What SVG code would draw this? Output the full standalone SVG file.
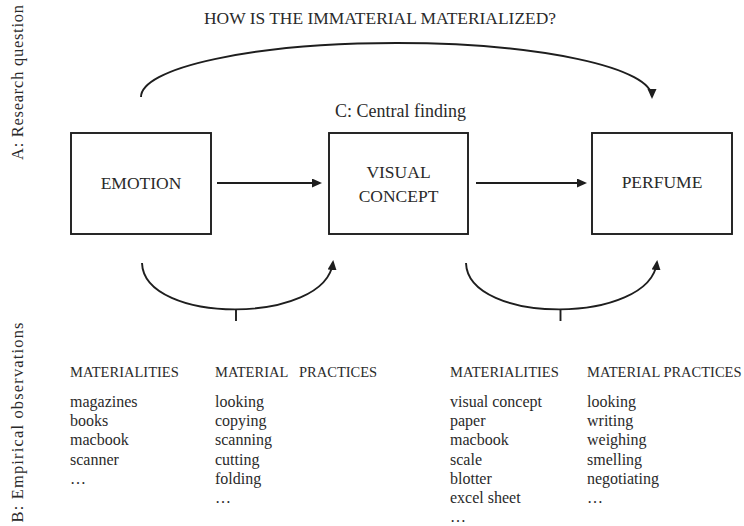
<svg xmlns="http://www.w3.org/2000/svg" width="744" height="526" viewBox="0 0 744 526">
<style>
  text { font-family: "Liberation Serif", "Times New Roman", serif; fill: #2a2a2a; }
  .box { fill: #ffffff; stroke: #1e1e1e; stroke-width: 1.9; }
  .node { font-size: 17.5px; text-anchor: middle; }
  .con { fill: none; stroke: #1e1e1e; stroke-width: 1.9; }
  .head { font-size: 14.5px; }
  .item { font-size: 16px; }
  .side { font-size: 16.5px; text-anchor: middle; }
</style>
<defs>
  <marker id="ah" markerUnits="userSpaceOnUse" markerWidth="12" markerHeight="12" refX="8" refY="4.5" orient="auto">
    <path d="M0,0 L10,4.5 L0,9 z" fill="#1e1e1e"/>
  </marker>
</defs>
<rect width="744" height="526" fill="#ffffff"/>

<g id="side-labels">
  <text class="side" transform="translate(23,82.5) rotate(-90)" textLength="155" lengthAdjust="spacing">A: Research question</text>
  <text class="side" transform="translate(23,422.5) rotate(-90)" textLength="200" lengthAdjust="spacing">B: Empirical observations</text>
</g>

<g id="research-question">
  <text x="204" y="24" font-size="17" textLength="352" lengthAdjust="spacingAndGlyphs">HOW IS THE IMMATERIAL MATERIALIZED?</text>
</g>

<g id="central-finding">
  <text x="335" y="117" font-size="18" textLength="131" lengthAdjust="spacingAndGlyphs">C: Central finding</text>
</g>

<g id="connectors">
  <path class="con" d="M141,97 A255.5,54 0 0 1 652,97" marker-end="url(#ah)"/>
  <line class="con" x1="217" y1="183" x2="320" y2="183" marker-end="url(#ah)"/>
  <line class="con" x1="476" y1="183" x2="585" y2="183" marker-end="url(#ah)"/>
  <path class="con" d="M142,263 C144,325 326,325 333,262" marker-end="url(#ah)"/>
  <line class="con" x1="236" y1="309" x2="236" y2="321"/>
  <path class="con" d="M466,263 C468,325 650,325 657,262" marker-end="url(#ah)"/>
  <line class="con" x1="560.5" y1="309" x2="560.5" y2="321"/>
</g>

<g id="node-emotion">
  <rect class="box" x="71" y="133" width="140" height="101"/>
  <text class="node" x="141" y="189">EMOTION</text>
</g>

<g id="node-visual-concept">
  <rect class="box" x="329" y="133" width="139" height="101"/>
  <text class="node" x="398.5" y="178">VISUAL</text>
  <text class="node" x="398.5" y="202">CONCEPT</text>
</g>

<g id="node-perfume">
  <rect class="box" x="592" y="133" width="140" height="101"/>
  <text class="node" x="662" y="188">PERFUME</text>
</g>

<g id="observations-left">
  <text class="head" x="70" y="377">MATERIALITIES</text>
  <text class="item" x="70" y="407">magazines</text>
  <text class="item" x="70" y="426">books</text>
  <text class="item" x="70" y="445">macbook</text>
  <text class="item" x="70" y="465">scanner</text>
  <text class="item" x="70" y="484">…</text>

  <text class="head" x="215" y="377">MATERIAL</text>
  <text class="head" x="299" y="377">PRACTICES</text>
  <text class="item" x="215" y="407">looking</text>
  <text class="item" x="215" y="426">copying</text>
  <text class="item" x="215" y="445">scanning</text>
  <text class="item" x="215" y="465">cutting</text>
  <text class="item" x="215" y="484">folding</text>
  <text class="item" x="215" y="503">…</text>
</g>

<g id="observations-right">
  <text class="head" x="450" y="377">MATERIALITIES</text>
  <text class="item" x="450" y="407">visual concept</text>
  <text class="item" x="450" y="426">paper</text>
  <text class="item" x="450" y="445">macbook</text>
  <text class="item" x="450" y="465">scale</text>
  <text class="item" x="450" y="484">blotter</text>
  <text class="item" x="450" y="503">excel sheet</text>
  <text class="item" x="450" y="522">…</text>

  <text class="head" x="587" y="377">MATERIAL PRACTICES</text>
  <text class="item" x="587" y="407">looking</text>
  <text class="item" x="587" y="426">writing</text>
  <text class="item" x="587" y="445">weighing</text>
  <text class="item" x="587" y="465">smelling</text>
  <text class="item" x="587" y="484">negotiating</text>
  <text class="item" x="587" y="503">…</text>
</g>
</svg>
